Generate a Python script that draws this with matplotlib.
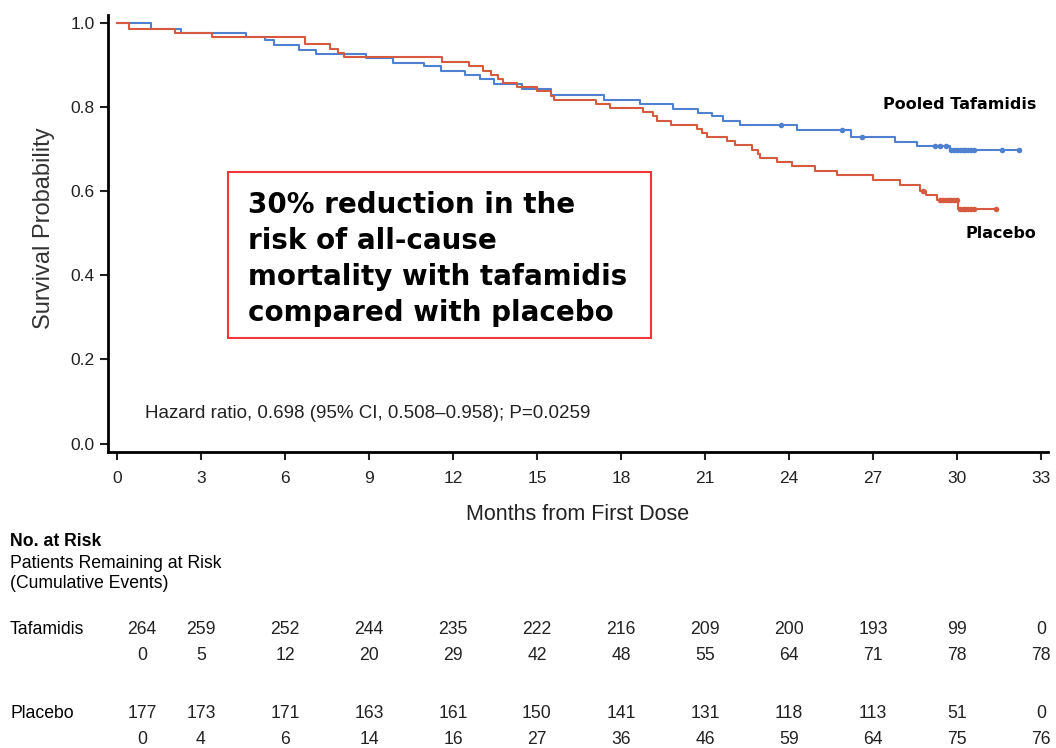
import numpy as np
import matplotlib
matplotlib.use("Agg")
import matplotlib.pyplot as plt
import matplotlib.transforms as mtransforms
from matplotlib.patches import Rectangle

plt.rcParams['font.family'] = ['Liberation Sans', 'DejaVu Sans']

# Kaplan-Meier step data (months, survival after the step)
taf_t = [0, 1.2, 2.3, 4.6, 5.3, 5.6, 6.5, 7.1, 8.9, 9.85, 10.97, 11.57, 12.43, 12.96,
         13.46, 14.45, 15.49, 17.39, 18.68, 19.86, 20.75, 21.24, 21.65, 22.25, 24.3,
         26.2, 27.8, 28.56, 29.75, 32.2]
taf_s = [1.0, 0.986, 0.976, 0.967, 0.959, 0.947, 0.936, 0.927, 0.917, 0.906, 0.897,
         0.886, 0.877, 0.867, 0.856, 0.842, 0.828, 0.816, 0.807, 0.795, 0.786, 0.778,
         0.768, 0.758, 0.746, 0.728, 0.717, 0.708, 0.699, 0.699]
taf_cens = [23.7, 25.9, 26.6, 29.2, 29.4, 29.6, 29.8, 29.9, 30.0, 30.1, 30.2, 30.3,
            30.4, 30.5, 30.6, 31.6, 32.2]

pbo_t = [0, 0.43, 2.07, 3.4, 6.7, 7.6, 7.9, 8.1, 11.6, 12.57, 13.07, 13.36, 13.6, 13.8,
         14.3, 15.0, 15.5, 15.6, 17.1, 17.6, 18.8, 19.15, 19.3, 19.8, 20.7, 20.9, 21.06,
         21.77, 22.07, 22.67, 22.9, 22.96, 23.56, 24.1, 24.93, 25.7, 27.0, 27.96, 28.68,
         28.9, 29.3, 30.04, 31.4]
pbo_s = [1.0, 0.986, 0.976, 0.967, 0.949, 0.939, 0.928, 0.919, 0.908, 0.897, 0.887,
         0.877, 0.868, 0.858, 0.847, 0.838, 0.826, 0.817, 0.807, 0.797, 0.788, 0.778,
         0.768, 0.758, 0.749, 0.739, 0.729, 0.720, 0.709, 0.699, 0.688, 0.679, 0.669,
         0.659, 0.648, 0.639, 0.627, 0.615, 0.601, 0.590, 0.578, 0.558, 0.558]
pbo_cens = [28.8, 29.4, 29.5, 29.6, 29.7, 29.8, 29.9, 30.0, 30.1, 30.2, 30.3, 30.4,
            30.5, 30.6, 31.4]

months = [0, 3, 6, 9, 12, 15, 18, 21, 24, 27, 30, 33]
taf_risk = [264, 259, 252, 244, 235, 222, 216, 209, 200, 193, 99, 0]
taf_events = [0, 5, 12, 20, 29, 42, 48, 55, 64, 71, 78, 78]
pbo_risk = [177, 173, 171, 163, 161, 150, 141, 131, 118, 113, 51, 0]
pbo_events = [0, 4, 6, 14, 16, 27, 36, 46, 59, 64, 75, 76]

blue = '#4f81d0'
red = '#d65a3f'

fig = plt.figure(figsize=(10.56, 7.48), dpi=100)
ax = fig.add_axes([108 / 1056, 1 - 452 / 748, 940 / 1056, 437 / 748])


def surv_at(times, surv, x):
    idx = np.searchsorted(times, x, side='right') - 1
    return np.array(surv)[idx]


for t, s, c, col in [(taf_t, taf_s, taf_cens, blue), (pbo_t, pbo_s, pbo_cens, red)]:
    ax.step(t, s, where='post', color=col, lw=1.5)
    ax.plot(c, surv_at(t, s, c), 'o', color=col, ms=4, mew=0)

ax.set_xlim(-0.32, 33.25)
ax.set_ylim(-0.02, 1.019)
ax.set_xticks(months)
ax.set_yticks(np.arange(0, 1.01, 0.2))
ax.set_yticklabels(['%.1f' % v for v in np.arange(0, 1.01, 0.2)])
for side in ['top', 'right']:
    ax.spines[side].set_visible(False)
for side in ['left', 'bottom']:
    ax.spines[side].set_linewidth(2)
ax.tick_params(axis='both', labelsize=12.5, width=1.5, length=6, color='#222222',
               labelcolor='#222222')
ax.tick_params(axis='x', pad=8)
ax.set_ylabel('Survival Probability', fontsize=17, color='#333333')
ax.yaxis.set_label_coords(-0.056, 0.513)
ax.set_xlabel('Months from First Dose', fontsize=15.5, color='#222222', labelpad=13)

ax.text(0.988, 0.796, 'Pooled Tafamidis', transform=ax.transAxes, ha='right',
        va='center', fontsize=11.5, fontweight='bold', family='DejaVu Sans')
ax.text(0.988, 0.499, 'Placebo', transform=ax.transAxes, ha='right',
        va='center', fontsize=11.5, fontweight='bold', family='DejaVu Sans')

ax.add_patch(Rectangle((120 / 940, (452 - 338) / 437), 423 / 940, 166 / 437,
                       transform=ax.transAxes, fill=False, ec='#f0383c', lw=1.5))
ax.text(140 / 940, (452 - 191) / 437,
        '30% reduction in the\nrisk of all-cause\nmortality with tafamidis\ncompared with placebo',
        transform=ax.transAxes, ha='left', va='top', fontsize=20, fontweight='bold',
        family='DejaVu Sans', linespacing=1.37)

ax.text(37 / 940, (452 - 414) / 437, 'Hazard ratio, 0.698 (95% CI, 0.508\u20130.958); P=0.0259',
        transform=ax.transAxes, ha='left', va='center', fontsize=13.5, color='#222222')

# number at risk table
fs = 12.7
tr = mtransforms.blended_transform_factory(ax.transData, fig.transFigure)
fig.text(10 / 1056, 1 - 542 / 748, 'No. at Risk', fontsize=fs, fontweight='bold', va='center')
fig.text(10 / 1056, 1 - 563 / 748, 'Patients Remaining at Risk', fontsize=fs, va='center')
fig.text(10 / 1056, 1 - 584 / 748, '(Cumulative Events)', fontsize=fs, va='center')
fig.text(10 / 1056, 1 - 630 / 748, 'Tafamidis', fontsize=fs, va='center')
fig.text(10 / 1056, 1 - 714 / 748, 'Placebo', fontsize=fs, va='center')

cols = [0.9] + months[1:]
rows = [(taf_risk, 630), (taf_events, 656), (pbo_risk, 714), (pbo_events, 740)]
for vals, ypx in rows:
    for x, v in zip(cols, vals):
        fig.text(x, 1 - ypx / 748, str(v), transform=tr, ha='center', va='center',
                 fontsize=fs, color='#222222')

fig.savefig('out.png', dpi=100)
